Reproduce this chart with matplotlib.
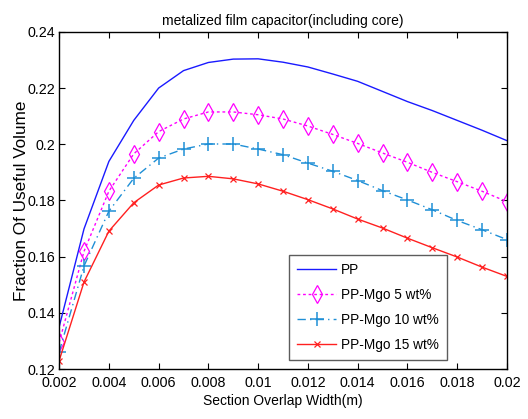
#!/usr/bin/env python
# Fraction of useful volume vs section overlap width, metalized film capacitor
import numpy
from matplotlib import pyplot as plt

plt.rcParams['font.family'] = ['Liberation Sans', 'DejaVu Sans']

width = numpy.array([0.002, 0.003, 0.004, 0.005, 0.006, 0.007, 0.008, 0.009, 0.010,
                     0.011, 0.012, 0.013, 0.014, 0.015, 0.016, 0.017, 0.018, 0.019, 0.020])

pp = [0.1350, 0.1699, 0.1939, 0.2085, 0.2200, 0.2262, 0.2291, 0.2303, 0.2304,
      0.2292, 0.2275, 0.2250, 0.2224, 0.2188, 0.2152, 0.2120, 0.2085, 0.2050, 0.2013]
mgo5 = [0.1295, 0.1619, 0.1833, 0.1966, 0.2045, 0.2090, 0.2115, 0.2115, 0.2105,
        0.2090, 0.2065, 0.2035, 0.2003, 0.1969, 0.1936, 0.1900, 0.1867, 0.1833, 0.1796]
mgo10 = [0.1261, 0.1567, 0.1762, 0.1879, 0.1951, 0.1983, 0.2001, 0.2001, 0.1983,
         0.1963, 0.1933, 0.1904, 0.1871, 0.1835, 0.1802, 0.1767, 0.1729, 0.1696, 0.1661]
mgo15 = [0.1230, 0.1510, 0.1691, 0.1792, 0.1855, 0.1880, 0.1886, 0.1877, 0.1859,
         0.1833, 0.1803, 0.1770, 0.1734, 0.1702, 0.1666, 0.1632, 0.1599, 0.1563, 0.1530]

fig = plt.figure(figsize=(5.28, 4.19), dpi=100)
ax = fig.add_axes([0.112, 0.119, 0.848, 0.805])

ax.plot(width, pp, '-', color='#1a1aff', linewidth=1, label='PP')
ax.plot(width, mgo5, linestyle=(0, (2, 2)), color='#ff00ff', linewidth=1,
        marker='d', markersize=9, markerfacecolor='none', markeredgewidth=0.9,
        label='PP-Mgo 5 wt%')
ax.plot(width, mgo10, linestyle=(0, (6, 3, 1, 3)), color='#1f8fd6', linewidth=1,
        marker='+', markersize=10, markeredgewidth=1.1, label='PP-Mgo 10 wt%')
ax.plot(width, mgo15, '-', color='#ff2020', linewidth=1,
        marker='x', markersize=5, markeredgewidth=0.9, label='PP-Mgo 15 wt%')

# axes
ax.set_xlim(0.002, 0.02)
ax.set_ylim(0.12, 0.24)
ax.set_xticks(numpy.arange(0.002, 0.0201, 0.002))
ax.set_xticklabels(['0.002', '0.004', '0.006', '0.008', '0.01', '0.012',
                    '0.014', '0.016', '0.018', '0.02'])
ax.set_yticks(numpy.arange(0.12, 0.2401, 0.02))
ax.set_yticklabels(['0.12', '0.14', '0.16', '0.18', '0.2', '0.22', '0.24'])
ax.tick_params(direction='in', top=True, right=True, length=4, labelsize=10.3)
ax.tick_params(axis='x', pad=5)
ax.tick_params(axis='y', pad=3)
for s in ax.spines.values():
    s.set_linewidth(1)

# labels
ax.set_title('metalized film capacitor(including core)', fontsize=10, pad=5)
ax.set_xlabel('Section Overlap Width(m)', fontsize=10, labelpad=3)
ax.set_ylabel('Fraction Of Useful Volume', fontsize=12.3, labelpad=-1)

leg = ax.legend(loc='lower left', bbox_to_anchor=(0.508, 0.02), fontsize=9.8,
                fancybox=False, edgecolor='#333333', handlelength=2.8,
                labelspacing=0.8, borderpad=0.6, handletextpad=0.4,
                borderaxespad=0.2)
leg.get_frame().set_linewidth(1)

fig.savefig('out.png', dpi=100)
